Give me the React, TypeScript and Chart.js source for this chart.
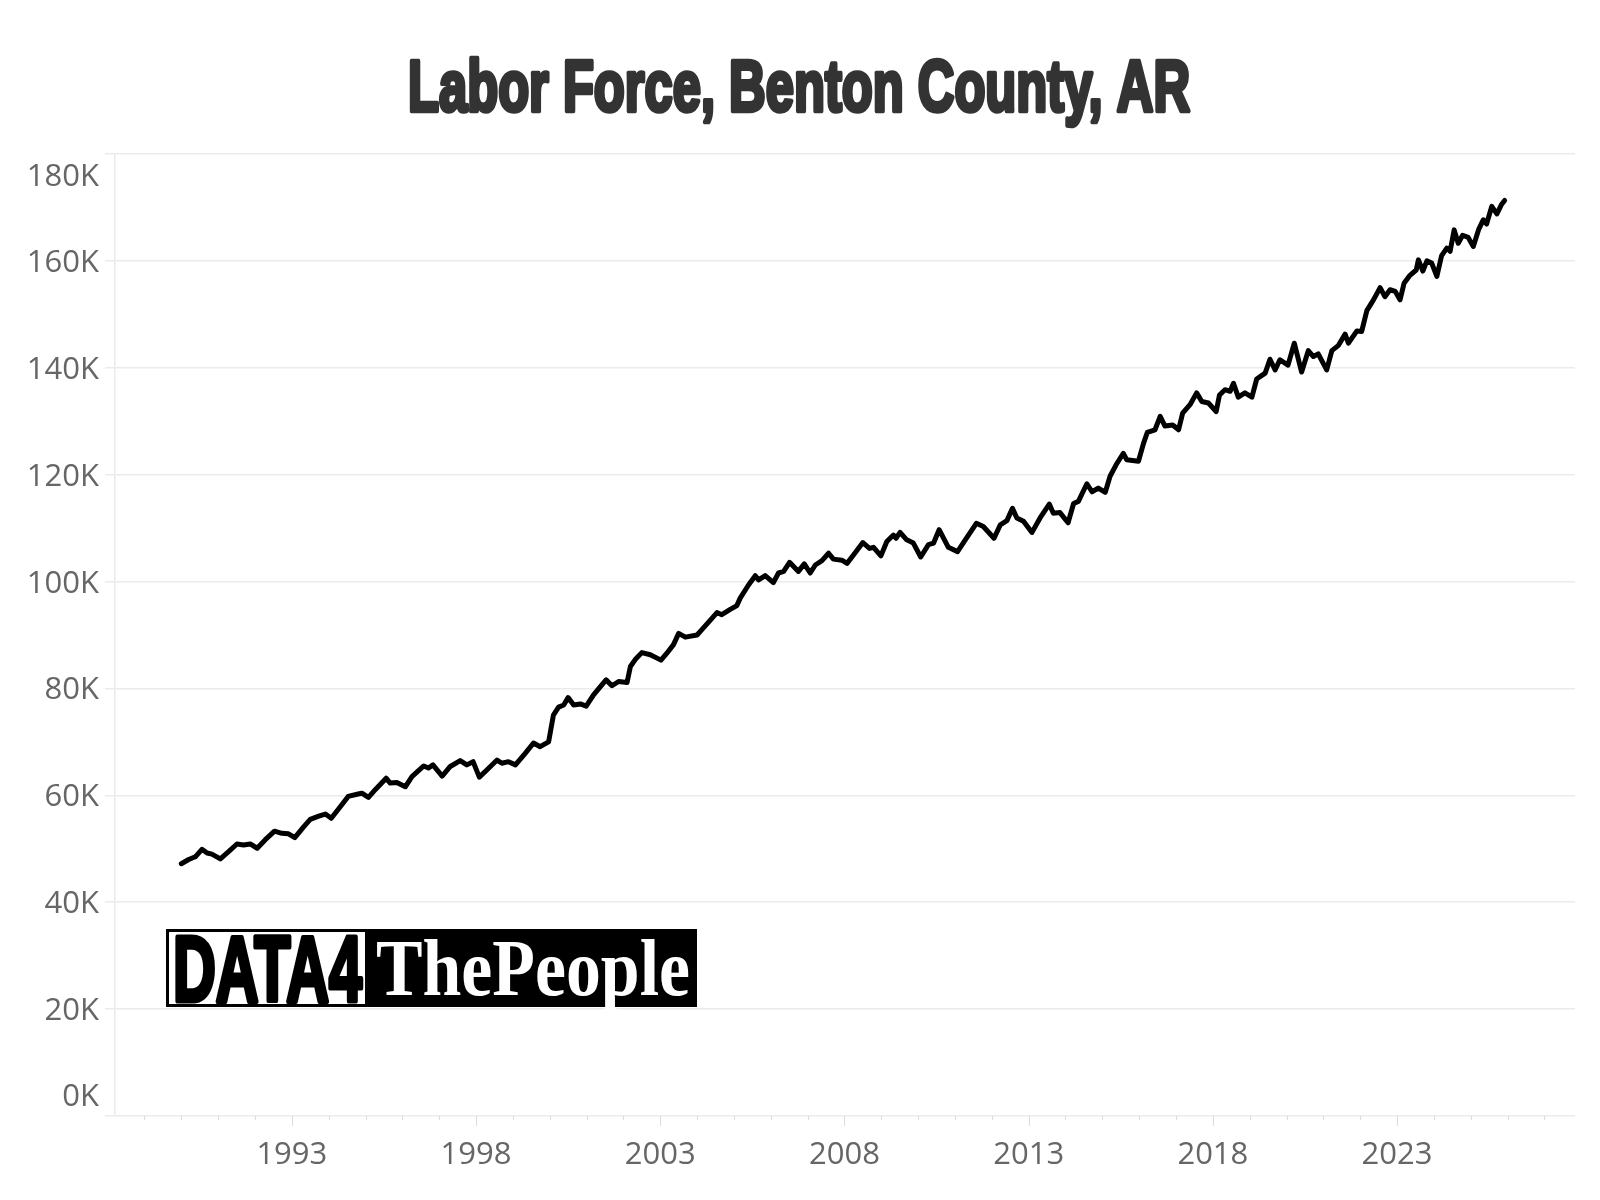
import React, { useEffect, useRef } from "react";
import { Chart, registerables } from "chart.js";

Chart.register(...registerables);

const titleText = "Labor Force, Benton County, AR";

// decimal year of each observation
const years = [
  1990.0, 1990.2, 1990.38, 1990.56, 1990.7, 1990.83, 1991.06, 1991.29, 1991.51, 1991.69, 1991.87,
  1992.06, 1992.28, 1992.53, 1992.73, 1992.91, 1993.08, 1993.32, 1993.5, 1993.73, 1993.91,
  1994.07, 1994.32, 1994.53, 1994.77, 1994.9, 1995.08, 1995.27, 1995.56, 1995.67, 1995.85,
  1996.08, 1996.26, 1996.58, 1996.71, 1996.83, 1997.08, 1997.3, 1997.57, 1997.75, 1997.92,
  1998.09, 1998.3, 1998.57, 1998.7, 1998.88, 1999.07, 1999.34, 1999.56, 1999.74, 1999.97,
  2000.1, 2000.24, 2000.38, 2000.5, 2000.65, 2000.83, 2000.99, 2001.19, 2001.37, 2001.53,
  2001.69, 2001.87, 2002.1, 2002.19, 2002.32, 2002.5, 2002.73, 2003.02, 2003.18, 2003.36,
  2003.5, 2003.68, 2004.0, 2004.13, 2004.36, 2004.54, 2004.67, 2004.9, 2005.08, 2005.17,
  2005.4, 2005.58, 2005.67, 2005.85, 2006.07, 2006.21, 2006.35, 2006.51, 2006.75, 2006.91,
  2007.07, 2007.21, 2007.39, 2007.57, 2007.7, 2007.93, 2008.07, 2008.25, 2008.5, 2008.68,
  2008.79, 2008.99, 2009.15, 2009.33, 2009.4, 2009.51, 2009.69, 2009.87, 2010.07, 2010.28,
  2010.42, 2010.57, 2010.82, 2011.07, 2011.28, 2011.58, 2011.77, 2012.06, 2012.23, 2012.41,
  2012.56, 2012.68, 2012.86, 2013.09, 2013.31, 2013.56, 2013.67, 2013.85, 2014.07, 2014.22,
  2014.35, 2014.58, 2014.72, 2014.89, 2015.08, 2015.21, 2015.37, 2015.57, 2015.66, 2015.98,
  2016.12, 2016.22, 2016.43, 2016.57, 2016.7, 2016.91, 2017.07, 2017.18, 2017.38, 2017.56,
  2017.7, 2017.88, 2018.09, 2018.18, 2018.33, 2018.47, 2018.56, 2018.69, 2018.87, 2019.06,
  2019.19, 2019.42, 2019.55, 2019.69, 2019.82, 2020.04, 2020.21, 2020.41, 2020.59, 2020.73,
  2020.86, 2021.09, 2021.23, 2021.41, 2021.59, 2021.68, 2021.91, 2022.04, 2022.18, 2022.36,
  2022.54, 2022.67, 2022.81, 2022.95, 2023.08, 2023.19, 2023.35, 2023.52, 2023.58, 2023.7,
  2023.81, 2023.94, 2024.08, 2024.21, 2024.35, 2024.44, 2024.55, 2024.66, 2024.78, 2024.93,
  2025.07, 2025.21, 2025.34, 2025.43, 2025.57, 2025.71, 2025.84, 2025.92,
];

// labor force, thousands of people
const laborForceK = [
  47.2, 48.0, 48.5, 49.9, 49.2, 49.0, 48.1, 49.5, 50.9, 50.7, 50.9,
  50.1, 51.7, 53.3, 52.9, 52.8, 52.1, 54.1, 55.5, 56.1, 56.5,
  55.7, 57.9, 59.8, 60.2, 60.4, 59.6, 61.1, 63.2, 62.3, 62.4,
  61.6, 63.5, 65.5, 65.1, 65.7, 63.6, 65.4, 66.5, 65.7, 66.3,
  63.4, 64.8, 66.6, 66.0, 66.3, 65.7, 67.9, 69.8, 69.1, 70.0,
  75.0, 76.5, 76.9, 78.3, 76.9, 77.1, 76.7, 78.8, 80.3, 81.6,
  80.5, 81.3, 81.1, 84.1, 85.4, 86.7, 86.3, 85.3, 86.6, 88.2,
  90.3, 89.6, 90.0, 91.0, 92.8, 94.2, 93.8, 94.8, 95.5, 96.9,
  99.4, 101.1, 100.3, 101.1, 99.8, 101.6, 101.9, 103.6, 101.9, 103.3,
  101.6, 103.1, 103.9, 105.3, 104.2, 104.0, 103.4, 105.0, 107.3, 106.2,
  106.4, 104.8, 107.5, 108.7, 108.1, 109.2, 107.8, 107.2, 104.6, 106.9,
  107.2, 109.7, 106.4, 105.6, 107.8, 110.9, 110.3, 108.1, 110.6, 111.4,
  113.7, 111.9, 111.3, 109.2, 111.9, 114.5, 112.8, 112.9, 111.0, 114.6,
  115.0, 118.3, 116.8, 117.5, 116.7, 119.7, 121.8, 124.0, 122.8, 122.5,
  125.9, 127.9, 128.4, 130.9, 129.1, 129.3, 128.4, 131.5, 133.1, 135.3,
  133.7, 133.4, 131.8, 134.9, 135.9, 135.6, 137.1, 134.5, 135.3, 134.5,
  137.9, 139.0, 141.6, 139.6, 141.5, 140.5, 144.6, 139.2, 143.2, 142.1,
  142.6, 139.6, 143.2, 144.2, 146.3, 144.6, 146.9, 146.8, 150.7, 152.7,
  155.0, 153.3, 154.6, 154.3, 152.7, 155.8, 157.3, 158.3, 160.2, 158.1,
  160.0, 159.6, 157.1, 161.0, 162.4, 161.8, 165.8, 163.3, 164.8, 164.4,
  162.7, 165.8, 167.7, 166.9, 170.2, 168.8, 170.6, 171.3,
];

const yTickValues = [0, 20, 40, 60, 80, 100, 120, 140, 160, 180];
const xTickYears = [1993, 1998, 2003, 2008, 2013, 2018, 2023];
const xRange = [1988.2, 2027.83];

const GRID = "#ebebeb";
const TICK_TEXT = "#666666";
const TITLE_COLOR = "#333333";

const overlayPlugin = {
  id: "overlay",
  afterDraw(chart: any) {
    const { ctx, chartArea, scales } = chart;
    const ys = scales.y;
    const xs = scales.x;
    ctx.save();

    // y tick labels (edge labels pulled inside the plot range)
    ctx.font = "31px 'Open Sans'";
    ctx.fillStyle = TICK_TEXT;
    ctx.textAlign = "right";
    ctx.textBaseline = "alphabetic";
    for (const v of yTickValues) {
      let py = ys.getPixelForValue(v);
      if (py - chartArea.top < 20) py = chartArea.top + 21;
      if (chartArea.bottom - py < 20) py = chartArea.bottom - 21;
      ctx.fillText(`${v}K`, 99, py + 11);
    }

    // x tick marks (minor every year, major at labelled years)
    ctx.strokeStyle = "#dcdcdc";
    ctx.lineWidth = 1;
    for (let yr = Math.ceil(xs.min); yr <= Math.floor(xs.max); yr++) {
      const px = Math.round(xs.getPixelForValue(yr)) + 0.5;
      const len = xTickYears.includes(yr) ? 10 : 4;
      ctx.beginPath();
      ctx.moveTo(px, chartArea.bottom);
      ctx.lineTo(px, chartArea.bottom + len);
      ctx.stroke();
    }

    // x tick labels
    ctx.textAlign = "center";
    for (const yr of xTickYears) {
      ctx.fillText(String(yr), xs.getPixelForValue(yr), 1164);
    }

    // title (condensed heavy look)
    ctx.font = "bold 72px 'Liberation Sans', Arial, sans-serif";
    const tw = ctx.measureText(titleText).width;
    ctx.save();
    ctx.translate(799, 111);
    ctx.scale(782 / tw, 1);
    ctx.fillStyle = TITLE_COLOR;
    ctx.strokeStyle = TITLE_COLOR;
    ctx.lineWidth = 4.5;
    ctx.lineJoin = "round";
    ctx.textAlign = "center";
    ctx.fillText(titleText, 0, 0);
    ctx.strokeText(titleText, 0, 0);
    ctx.restore();

    // logo
    ctx.fillStyle = "#000";
    ctx.fillRect(166, 929, 531, 78);
    ctx.fillStyle = "#fff";
    ctx.fillRect(169, 932, 196, 72);
    ctx.save();
    ctx.font = "bold 92px 'Liberation Sans', Arial, sans-serif";
    const dw = ctx.measureText("DATA4").width;
    ctx.translate(173, 1001);
    ctx.scale(189 / dw, 1);
    ctx.fillStyle = "#000";
    ctx.strokeStyle = "#000";
    ctx.lineWidth = 5;
    ctx.lineJoin = "round";
    ctx.textAlign = "left";
    ctx.fillText("DATA4", 0, 0);
    ctx.strokeText("DATA4", 0, 0);
    ctx.restore();
    ctx.save();
    ctx.font = "bold 80px 'Liberation Serif', 'DejaVu Serif', serif";
    const pw = ctx.measureText("ThePeople").width;
    ctx.translate(376, 995);
    ctx.scale(314 / pw, 1);
    ctx.fillStyle = "#fff";
    ctx.textAlign = "left";
    ctx.fillText("ThePeople", 0, 0);
    ctx.restore();

    ctx.restore();
  },
};

export default function App() {
  const canvasRef = useRef<HTMLCanvasElement | null>(null);

  useEffect(() => {
    const canvas = canvasRef.current;
    if (!canvas) return;
    const points = years.map((yr, i) => ({ x: yr, y: laborForceK[i] }));
    const chart = new Chart(canvas, {
      type: "line",
      data: {
        datasets: [
          {
            label: "Labor Force",
            data: points,
            borderColor: "#000000",
            borderWidth: 5,
            pointRadius: 0,
            tension: 0,
            borderJoinStyle: "round",
            borderCapStyle: "round",
            fill: false,
          },
        ],
      },
      options: {
        responsive: false,
        animation: false,
        devicePixelRatio: 1,
        layout: { padding: { top: 154, right: 25, bottom: 84, left: 0 } },
        plugins: {
          legend: { display: false },
          title: { display: false },
          tooltip: { enabled: false },
        },
        scales: {
          x: {
            type: "linear",
            display: false,
            min: xRange[0],
            max: xRange[1],
          },
          y: {
            type: "linear",
            min: 0,
            max: 180,
            afterBuildTicks: (scale: any) => {
              scale.ticks = yTickValues.map((v) => ({ value: v }));
            },
            afterFit: (scale: any) => {
              scale.width = 115;
            },
            ticks: { display: false },
            grid: {
              color: GRID,
              lineWidth: 1.5,
              drawTicks: true,
              tickLength: 10,
              tickColor: GRID,
            },
            border: { display: true, color: GRID, width: 1.5 },
          },
        },
      },
      plugins: [overlayPlugin],
    });
    return () => chart.destroy();
  }, []);

  return (
    <div style={{ position: "absolute", left: 0, top: 0, width: 1600, height: 1200, background: "#fff" }}>
      <canvas ref={canvasRef} width={1600} height={1200} style={{ display: "block" }} />
    </div>
  );
}
